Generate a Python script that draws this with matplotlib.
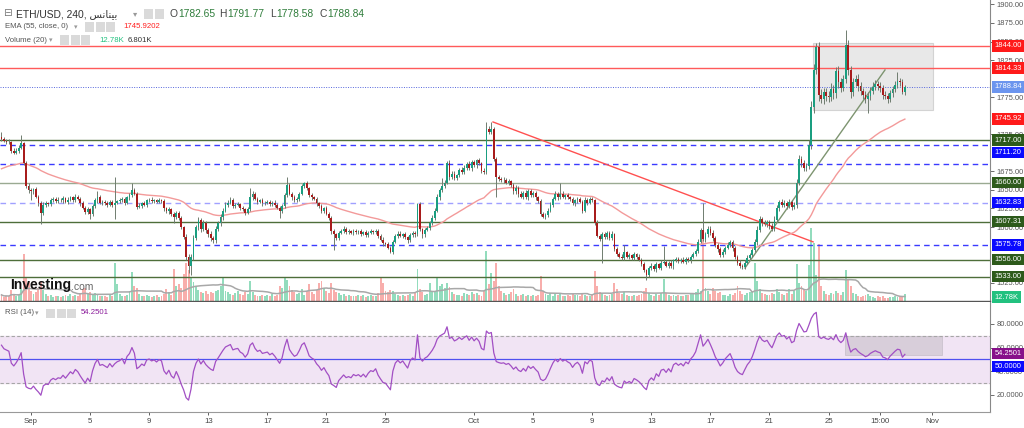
import matplotlib
matplotlib.use("Agg")
import matplotlib.pyplot as plt
from matplotlib.patches import Rectangle
import numpy as np

W, H = 1024, 428

# ETH/USD 4h candles, first candle 30 Aug 00:00, day 0 = 1 Sep (6 candles per row = 1 day)
closes = [
    1719, 1716, 1715, 1714, 1703, 1700,
    1703, 1707, 1713, 1686, 1655, 1650,
    1648, 1651, 1641, 1632, 1619, 1630,
    1632, 1631, 1636, 1638, 1635, 1637,
    1636, 1639, 1634, 1637, 1640, 1637,
    1641, 1638, 1632, 1626, 1620, 1624,
    1618, 1628, 1636, 1641, 1633, 1634,
    1632, 1630, 1634, 1630, 1633, 1635,
    1636, 1638, 1633, 1640, 1643, 1650,
    1645, 1627, 1629, 1632, 1630, 1636,
    1637, 1635, 1636, 1634, 1636, 1635,
    1625, 1621, 1624, 1617, 1614, 1619,
    1612, 1600, 1587, 1560, 1548, 1560,
    1585, 1600, 1609, 1598, 1605, 1596,
    1590, 1585, 1582, 1598, 1605, 1613,
    1622, 1630, 1633, 1636, 1628, 1630,
    1631, 1626, 1624, 1619, 1624, 1640,
    1645, 1638, 1634, 1636, 1632, 1633,
    1634, 1631, 1633, 1630, 1626, 1622,
    1628, 1643, 1657, 1645, 1640, 1636,
    1638, 1645, 1655, 1659, 1652, 1643,
    1640, 1638, 1632, 1628, 1622, 1625,
    1618, 1612, 1594, 1590, 1585, 1592,
    1595, 1598, 1593, 1594, 1592, 1595,
    1593, 1594, 1591, 1593, 1589, 1592,
    1594, 1593, 1595, 1588, 1583, 1578,
    1577, 1572, 1566, 1580, 1588, 1591,
    1588, 1590, 1586, 1582, 1589, 1592,
    1590, 1631, 1597, 1590, 1596, 1599,
    1605, 1612, 1622, 1640, 1650, 1655,
    1660, 1686, 1668, 1672, 1666, 1670,
    1677, 1674, 1680, 1685, 1679, 1688,
    1683, 1690, 1686, 1676, 1674, 1732,
    1728, 1732, 1692, 1668, 1665, 1663,
    1664, 1660, 1662, 1656, 1648, 1652,
    1644, 1641, 1646, 1640, 1648, 1643,
    1646, 1640, 1635, 1618, 1614, 1616,
    1622, 1630, 1638, 1644, 1640, 1645,
    1641, 1643, 1640, 1638, 1632, 1636,
    1638, 1634, 1622, 1636, 1633, 1638,
    1636, 1606, 1588, 1584, 1590, 1587,
    1592, 1585, 1590, 1570, 1564, 1560,
    1558, 1566, 1560, 1562, 1558, 1563,
    1560, 1556, 1550, 1542, 1536, 1545,
    1548, 1543, 1550, 1545, 1552, 1553,
    1548, 1552, 1547, 1555, 1557, 1554,
    1556, 1553, 1557, 1555, 1560, 1563,
    1568, 1580, 1596, 1584, 1590, 1598,
    1592, 1585, 1576, 1570, 1562, 1566,
    1572, 1576, 1580, 1572, 1560, 1552,
    1548, 1546, 1552, 1558, 1562, 1569,
    1580, 1596, 1611, 1606, 1604, 1607,
    1602, 1598, 1610, 1626, 1634, 1630,
    1632, 1628, 1634, 1627, 1630, 1660,
    1692, 1686, 1680, 1682, 1711, 1762,
    1812, 1843, 1778, 1772, 1782, 1777,
    1775, 1786, 1780, 1810, 1795, 1788,
    1800, 1846, 1812, 1782, 1795, 1800,
    1790, 1783, 1778, 1772, 1776, 1784,
    1789, 1793, 1790, 1788, 1778, 1776,
    1772, 1780, 1786, 1792, 1797, 1796,
    1782.65, 1788.84,
]
first_open = 1722

# wick length above / below the body, in dollars
wick_hi = [
    6, 3, 2, 3, 2, 3,  3, 3, 11, 2, 3, 4,  3, 2, 3, 2, 3, 4,  3, 2, 3, 2, 2, 3,
    2, 3, 2, 3, 2, 2,  3, 2, 2, 3, 2, 3,  2, 3, 3, 7, 2, 3,  2, 3, 2, 3, 34, 2,
    3, 2, 3, 2, 3, 9,  3, 2, 3, 2, 3, 2,  2, 3, 2, 2, 3, 2,  3, 2, 3, 2, 3, 3,
    2, 3, 2, 3, 4, 3,  4, 3, 5, 3, 4, 3,  3, 4, 3, 4, 3, 4,  3, 4, 3, 5, 3, 2,
    3, 2, 3, 2, 3, 12,  3, 2, 3, 2, 3, 2,  2, 3, 2, 3, 2, 3,  3, 3, 10, 3, 2, 3,
    3, 2, 3, 2, 3, 2,  3, 2, 3, 2, 3, 2,  3, 2, 3, 3, 2, 3,  2, 3, 2, 3, 2, 3,
    2, 2, 3, 2, 3, 2,  3, 2, 3, 2, 2, 3,  2, 3, 2, 3, 2, 3,  3, 2, 3, 2, 3, 2,
    3, 2, 3, 2, 3, 3,  3, 4, 3, 4, 3, 11,  3, 3, 4, 3, 3, 2,  3, 4, 3, 2, 4, 3,
    3, 2, 3, 2, 3, 10,  4, 10, 3, 3, 2, 3,  3, 2, 3, 2, 3, 4,  3, 4, 3, 4, 3, 3,
    2, 3, 2, 3, 2, 3,  3, 4, 3, 4, 3, 14,  3, 2, 3, 2, 3, 2,  3, 2, 3, 4, 3, 2,
    3, 2, 3, 2, 3, 3,  2, 3, 4, 2, 3, 2,  3, 10, 2, 3, 2, 3,  2, 3, 2, 3, 2, 3,
    3, 2, 3, 2, 3, 21,  3, 2, 3, 2, 3, 2,  2, 3, 2, 3, 2, 3,  3, 4, 3, 36, 3, 4,
    3, 4, 3, 2, 3, 4,  3, 4, 3, 2, 3, 2,  3, 2, 3, 4, 3, 3,  4, 5, 4, 3, 4, 3,
    3, 4, 5, 4, 3, 4,  4, 3, 4, 3, 4, 5,  5, 4, 5, 4, 6, 8,  8, 5, 6, 8, 6, 5,
    6, 8, 5, 6, 7, 6,  5, 20, 6, 5, 6, 5,  6, 5, 4, 5, 6, 5,  6, 5, 4, 5, 4, 5,
    4, 5, 4, 5, 12, 4,  4, 2.93,
]
wick_lo = [
    3, 2, 3, 2, 3, 2,  2, 3, 2, 3, 3, 4,  12, 3, 2, 3, 15, 3,  3, 2, 3, 2, 3, 2,
    2, 3, 2, 3, 2, 3,  3, 2, 3, 2, 3, 2,  7, 3, 2, 3, 2, 3,  2, 3, 2, 3, 19, 2,
    3, 2, 3, 2, 3, 2,  2, 3, 2, 3, 2, 3,  2, 2, 3, 2, 2, 3,  3, 2, 3, 2, 9, 3,
    3, 2, 3, 4, 10, 13,  4, 3, 4, 5, 3, 4,  3, 4, 3, 4, 3, 3,  3, 2, 3, 2, 3, 2,
    2, 3, 2, 3, 2, 3,  3, 2, 3, 2, 3, 2,  2, 3, 2, 3, 2, 10,  3, 2, 3, 2, 3, 2,
    2, 3, 2, 3, 2, 3,  3, 2, 3, 2, 3, 3,  2, 3, 3, 21, 3, 2,  2, 3, 2, 3, 2, 3,
    3, 2, 3, 2, 3, 2,  2, 3, 2, 3, 2, 3,  3, 2, 1, 3, 2, 3,  2, 3, 2, 3, 2, 3,
    3, 2, 3, 5, 3, 2,  3, 2, 3, 2, 3, 3,  3, 2, 4, 3, 3, 3,  3, 2, 3, 3, 2, 3,
    2, 3, 2, 3, 2, 3,  3, 2, 3, 28, 3, 2,  3, 2, 3, 2, 3, 3,  3, 2, 3, 2, 3, 2,
    2, 3, 2, 3, 2, 3,  3, 2, 3, 2, 3, 2,  2, 3, 2, 3, 2, 3,  3, 2, 3, 2, 3, 2,
    2, 3, 2, 3, 33, 3,  3, 2, 3, 2, 3, 2,  2, 3, 2, 3, 2, 3,  3, 2, 3, 2, 8, 3,
    3, 2, 3, 2, 3, 2,  2, 3, 2, 3, 2, 3,  3, 2, 3, 2, 3, 2,  2, 3, 2, 3, 4, 3,
    3, 4, 3, 4, 3, 3,  3, 2, 3, 4, 3, 3,  3, 2, 3, 2, 3, 3,  3, 4, 3, 4, 3, 4,
    4, 3, 4, 3, 4, 3,  3, 4, 3, 4, 3, 4,  4, 5, 4, 5, 4, 6,  8, 6, 8, 5, 6, 7,
    6, 5, 8, 6, 7, 6,  5, 6, 7, 8, 6, 5,  6, 5, 6, 5, 18, 5,  5, 4, 5, 6, 5, 4,
    5, 4, 5, 4, 5, 6,  4, 4.07,
]

# volume per candle, thousands
volume_k = [
    12, 8, 10, 9, 22, 14,  10, 12, 24, 92, 45, 38,  20, 14, 18, 26, 40, 22,
    14, 10, 12, 8, 10, 9,  8, 10, 12, 9, 14, 10,  12, 9, 16, 24, 26, 14,
    18, 14, 16, 12, 10, 9,  10, 8, 12, 9, 75, 34,  14, 10, 9, 12, 20, 56,
    30, 26, 14, 10, 9, 12,  10, 8, 9, 11, 8, 10,  14, 24, 18, 12, 62, 30,
    34, 26, 52, 75, 60, 46,  38, 30, 22, 18, 16, 20,  14, 18, 16, 20, 22, 30,
    46, 20, 18, 14, 12, 16,  20, 14, 12, 18, 14, 40,  18, 12, 10, 9, 12, 10,
    11, 9, 14, 10, 12, 30,  26, 45, 42, 30, 22, 18,  14, 16, 24, 12, 20, 34,
    18, 14, 22, 36, 40, 26,  20, 16, 36, 22, 18, 16,  12, 14, 10, 11, 9, 10,
    10, 12, 9, 11, 8, 10,  12, 10, 9, 16, 46, 36,  20, 18, 22, 20, 14, 12,
    10, 12, 9, 11, 14, 10,  16, 62, 24, 18, 12, 14,  36, 20, 18, 45, 30, 34,
    26, 36, 28, 18, 14, 12,  12, 10, 16, 14, 12, 18,  14, 16, 12, 10, 20, 98,
    34, 54, 40, 75, 30, 20,  16, 12, 14, 18, 24, 14,  10, 12, 14, 9, 12, 10,
    11, 9, 12, 49, 20, 14,  12, 16, 10, 14, 12, 16,  10, 9, 12, 10, 14, 12,
    11, 10, 16, 12, 10, 9,  12, 59, 30, 18, 16, 12,  10, 12, 14, 36, 24, 16,
    14, 18, 12, 10, 9, 12,  10, 12, 14, 20, 26, 16,  12, 10, 14, 12, 16, 44,
    16, 12, 10, 11, 9, 12,  10, 9, 11, 12, 14, 16,  18, 24, 20, 140, 26, 20,
    14, 26, 20, 16, 18, 12,  12, 10, 14, 12, 16, 30,  20, 14, 12, 16, 18, 20,
    75, 40, 24, 16, 14, 12,  12, 16, 14, 24, 18, 14,  12, 16, 24, 14, 20, 72,
    36, 30, 24, 20, 70, 143,  114, 50, 111, 30, 20, 14,  12, 16, 14, 20, 16, 12,
    18, 60, 43, 30, 16, 14,  10, 8, 10, 12, 14, 10,  8, 6, 9, 7, 10, 6,
    5, 7, 8, 9, 8, 7,  9, 12.78,
]

red_levels = [1844.00, 1814.33]
green_levels = [1717.00, 1660.00, 1607.31, 1556.00, 1533.00]
blue_levels = [1711.20, 1685.00, 1632.83, 1575.78]
last_price = 1788.84
ema_seed = 1677.0
ema_value, vol_ma_value, rsi_value = 1745.9202, 6.801, 54.2501

down_line = ([31.28, 52.95], [1741.6, 1580.0])
up_line = ([48.34, 57.82], [1544.8, 1811.7])
range_box = (52.95, 61.1, 1757.7, 1848.4)      # day0, day1, low, high
rsi_box = (55.1, 61.7, 54.2, 70.2)

price_ticks = [1525, 1600, 1625, 1650, 1675, 1725, 1775, 1825, 1850, 1875, 1900]
tick_days = [0, 4, 8, 12, 16, 20, 24, 30, 34, 38, 42, 46, 50, 54, 57.5, 61]
tick_labels = ["Sep", "5", "9", "13", "17", "21", "25", "Oct",
               "5", "9", "13", "17", "21", "25", "15:00", "Nov"]

# ---------------------------------------------------------------
c = np.array(closes, dtype=float)
o = np.array([first_open] + closes[:-1], dtype=float)
n = len(c)
t = -2 + np.arange(n) / 6.0
up = c >= o
hi = np.maximum(o, c) + np.array(wick_hi, dtype=float)
lo = np.minimum(o, c) - np.array(wick_lo, dtype=float)
vol = np.array(volume_k, dtype=float)

# EMA 55
alpha = 2 / 56
ema = np.empty(n)
prev = ema_seed
for i in range(n):
    prev = alpha * c[i] + (1 - alpha) * prev
    ema[i] = prev

# RSI 14 (Wilder)
ag, al = 3.0, 1.6
rsi = np.empty(n)
prev_c = first_open
for i in range(n):
    d = c[i] - prev_c
    prev_c = c[i]
    ag = (ag * 13 + max(d, 0)) / 14
    al = (al * 13 + max(-d, 0)) / 14
    rsi[i] = 100 - 100 / (1 + ag / al)

# volume MA 20
vma = np.array([vol[max(0, i - 19):i + 1].mean() for i in range(n)])

FONT = ["Liberation Sans", "DejaVu Sans"]
plt.rcParams["font.family"] = FONT

fig = plt.figure(figsize=(W / 100, H / 100), dpi=100)
fig.patch.set_facecolor("white")


def rect(x0, y0, x1, y1):
    return [x0 / W, 1 - y1 / H, (x1 - x0) / W, (y1 - y0) / H]


xlim = (-2.1, 64.93)

axv = fig.add_axes(rect(0, 0, 990, 301))
ax = fig.add_axes(rect(0, 0, 990, 301))
axr = fig.add_axes(rect(0, 302, 990, 412))
ax.patch.set_visible(False)

for a in (axv, ax, axr):
    a.set_xlim(*xlim)

# volume
axv.bar(t, vol, width=0.13, color=np.where(up, "#93dcbd", "#f8aeac"), linewidth=0)
axv.plot(t, vma, color="#a8a8a8", lw=1.1)
axv.set_ylim(0, 590)
axv.axis("off")

# price panel
ax.set_ylim(1500.3, 1906)
ax.add_patch(Rectangle((range_box[0], range_box[2]), range_box[1] - range_box[0],
                       range_box[3] - range_box[2], fc="#e6e6e6", ec="#d0d0d0",
                       lw=0.8, alpha=0.9, zorder=0.5))
for lv in red_levels:
    ax.axhline(lv, color="#ff5a5a", lw=1.0, zorder=1)
for lv in green_levels:
    ax.axhline(lv, color="#9aaa92" if lv == 1660.00 else "#4e6e3a", lw=1.0, zorder=1)
for lv in blue_levels:
    ax.axhline(lv, color="#a0a0ff" if lv == 1632.83 else "#3a3aff", lw=1.0,
               ls=(0, (4, 3)), zorder=1)
ax.axhline(last_price, color="#5566dd", lw=0.7, ls=(0, (1, 1.5)), zorder=1)
ax.plot(*down_line, color="#ff5050", lw=1.0, zorder=2)
ax.plot(*up_line, color="#7d9470", lw=1.0, zorder=2)
ax.plot(t, ema, color="#f39a9a", lw=1.0, zorder=2.5)

ax.vlines(t, lo, hi, color="#6f7c6f", lw=0.7, zorder=3)
body = np.maximum(np.abs(c - o), 0.6)
ax.bar(t, body, bottom=np.minimum(o, c), width=0.12,
       color=np.where(up, "#1a9e80", "#a81c1c"), linewidth=0, zorder=4)

ax.yaxis.tick_right()
ax.set_yticks(price_ticks)
ax.set_yticklabels([f"{v:.2f}" for v in price_ticks])
ax.tick_params(axis="y", labelsize=5.4, colors="#555555", length=3, width=0.6, pad=1.5)
ax.tick_params(axis="x", bottom=False, labelbottom=False)
for s in ("top", "left"):
    ax.spines[s].set_visible(False)
ax.spines["right"].set_color("#888888")
ax.spines["bottom"].set_color("#555555")
ax.spines["bottom"].set_linewidth(1.0)


def tag(a, y, text, color, shift=0):
    a.annotate(text, xy=(1, y), xycoords=("axes fraction", "data"),
               xytext=(3.2, shift), textcoords="offset points",
               fontsize=5.4, color="white", va="center", ha="left",
               annotation_clip=False, zorder=10,
               bbox=dict(boxstyle="square,pad=0.3", fc=color, ec="none"))


tag(ax, 1844.00, "1844.00", "#ff1a1a")
tag(ax, 1814.33, "1814.33", "#ff1a1a")
tag(ax, last_price, "1788.84", "#6c95ee")
tag(ax, ema_value, f"{ema_value:.2f}", "#ff1a1a")
tag(ax, 1717.00, "1717.00", "#2d5a1b")
tag(ax, 1711.20, "1711.20", "#0a0aff", shift=-5.6)
tag(ax, 1660.00, "1660.00", "#2d5a1b")
tag(ax, 1632.83, "1632.83", "#0a0aff")
tag(ax, 1607.31, "1607.31", "#2d5a1b")
tag(ax, 1575.78, "1575.78", "#0a0aff")
tag(ax, 1556.00, "1556.00", "#2d5a1b")
tag(ax, 1533.00, "1533.00", "#2d5a1b")
ax.annotate(f"{vol[-1]:.2f}K", xy=(1, 1505.5), xycoords=("axes fraction", "data"),
            xytext=(3.2, 0), textcoords="offset points", fontsize=5.4, color="white",
            va="center", ha="left", annotation_clip=False, zorder=10,
            bbox=dict(boxstyle="square,pad=0.3", fc="#22c17f", ec="none"))

# RSI panel
axr.set_ylim(5.6, 98.6)
axr.axhspan(30, 70, color="#f1e4f4", zorder=0)
axr.axhline(70, color="#a6a6a6", lw=0.8, ls=(0, (3, 2)))
axr.axhline(30, color="#a6a6a6", lw=0.8, ls=(0, (3, 2)))
axr.axhline(50, color="#5050f0", lw=0.9)
axr.add_patch(Rectangle((rsi_box[0], rsi_box[2]), rsi_box[1] - rsi_box[0],
                        rsi_box[3] - rsi_box[2], fc="#d6ccd8", ec="#c8bfca",
                        lw=0.6, alpha=0.9, zorder=1))
axr.plot(t, rsi, color="#a24fc4", lw=0.9, zorder=3)
axr.yaxis.tick_right()
axr.set_yticks([20, 40, 60, 80])
axr.set_yticklabels(["20.0000", "40.0000", "60.0000", "80.0000"])
axr.tick_params(axis="y", labelsize=5.4, colors="#555555", length=3, width=0.6, pad=1.5)
axr.set_xticks(tick_days)
axr.set_xticklabels(tick_labels)
axr.tick_params(axis="x", labelsize=5.6, colors="#444444", length=2.5, width=0.6, pad=2)
for s in ("top", "left"):
    axr.spines[s].set_visible(False)
axr.spines["right"].set_color("#888888")
axr.spines["bottom"].set_color("#999999")
tag(axr, rsi_value, f"{rsi_value:.4f}", "#87108a", shift=0.6)
tag(axr, 50, "50.0000", "#0a0aff", shift=-5.0)


# legend rows
def ftext(x, y, s, **kw):
    kw.setdefault("family", FONT)
    fig.text(x / W, 1 - y / H, s, va="center", ha="left", **kw)


def icons(x, y, k=3):
    for j in range(k):
        fig.patches.append(Rectangle(((x + j * 10.5) / W, 1 - (y + 4.5) / H), 9 / W, 9 / H,
                                     transform=fig.transFigure, fc="#dadada",
                                     ec="none", zorder=5))


arabic = "\uFEB2\uFEE7\uFE8E\uFEE8\uFEF4\uFE91"   # بينانس (shaped, visual order)
ftext(3, 13.5, "\u229F", fontsize=7.5, color="#777777", family=["DejaVu Sans"])
ftext(16, 14, "ETH/USD, 240, " + arabic, fontsize=7.4, color="#333333")
ftext(133, 14, "\u25BE", fontsize=6, color="#999999", family=["DejaVu Sans"])
icons(144, 14, 2)
ftext(170, 14, "O", fontsize=7.4, color="#444444")
ftext(178, 14, "1782.65", fontsize=7.4, color="#2f7d3b")
ftext(219, 14, "H", fontsize=7.4, color="#444444")
ftext(227, 14, "1791.77", fontsize=7.4, color="#2f7d3b")
ftext(270, 14, "L", fontsize=7.4, color="#444444")
ftext(276, 14, "1778.58", fontsize=7.4, color="#2f7d3b")
ftext(319, 14, "C", fontsize=7.4, color="#444444")
ftext(327, 14, "1788.84", fontsize=7.4, color="#2f7d3b")

ftext(5, 27, "EMA (55, close, 0)", fontsize=5.6, color="#555555")
ftext(74, 27, "\u25BE", fontsize=5, color="#999999", family=["DejaVu Sans"])
icons(85, 27)
ftext(123, 27, f"{ema_value:.4f}", fontsize=5.6, color="#ff2020")

ftext(5, 40, "Volume (20)", fontsize=5.6, color="#555555")
ftext(49, 40, "\u25BE", fontsize=5, color="#999999", family=["DejaVu Sans"])
icons(60, 40)
ftext(99, 40, f"{vol[-1]:.2f}K", fontsize=5.6, color="#22c17f")
ftext(128, 40, f"{vol_ma_value:.3f}K", fontsize=5.6, color="#333333")

ftext(5, 313, "RSI (14)", fontsize=5.6, color="#555555")
ftext(35, 313, "\u25BE", fontsize=5, color="#999999", family=["DejaVu Sans"])
icons(46, 313)
ftext(81, 313, f"{rsi_value:.4f}", fontsize=5.6, color="#8a1a9a")

# watermark
ftext(10, 285, "Investing", fontsize=10, color="#111111", fontweight="bold")
ftext(71, 287, ".com", fontsize=7.5, color="#666666")

fig.savefig("out.png", dpi=100, facecolor="white")
